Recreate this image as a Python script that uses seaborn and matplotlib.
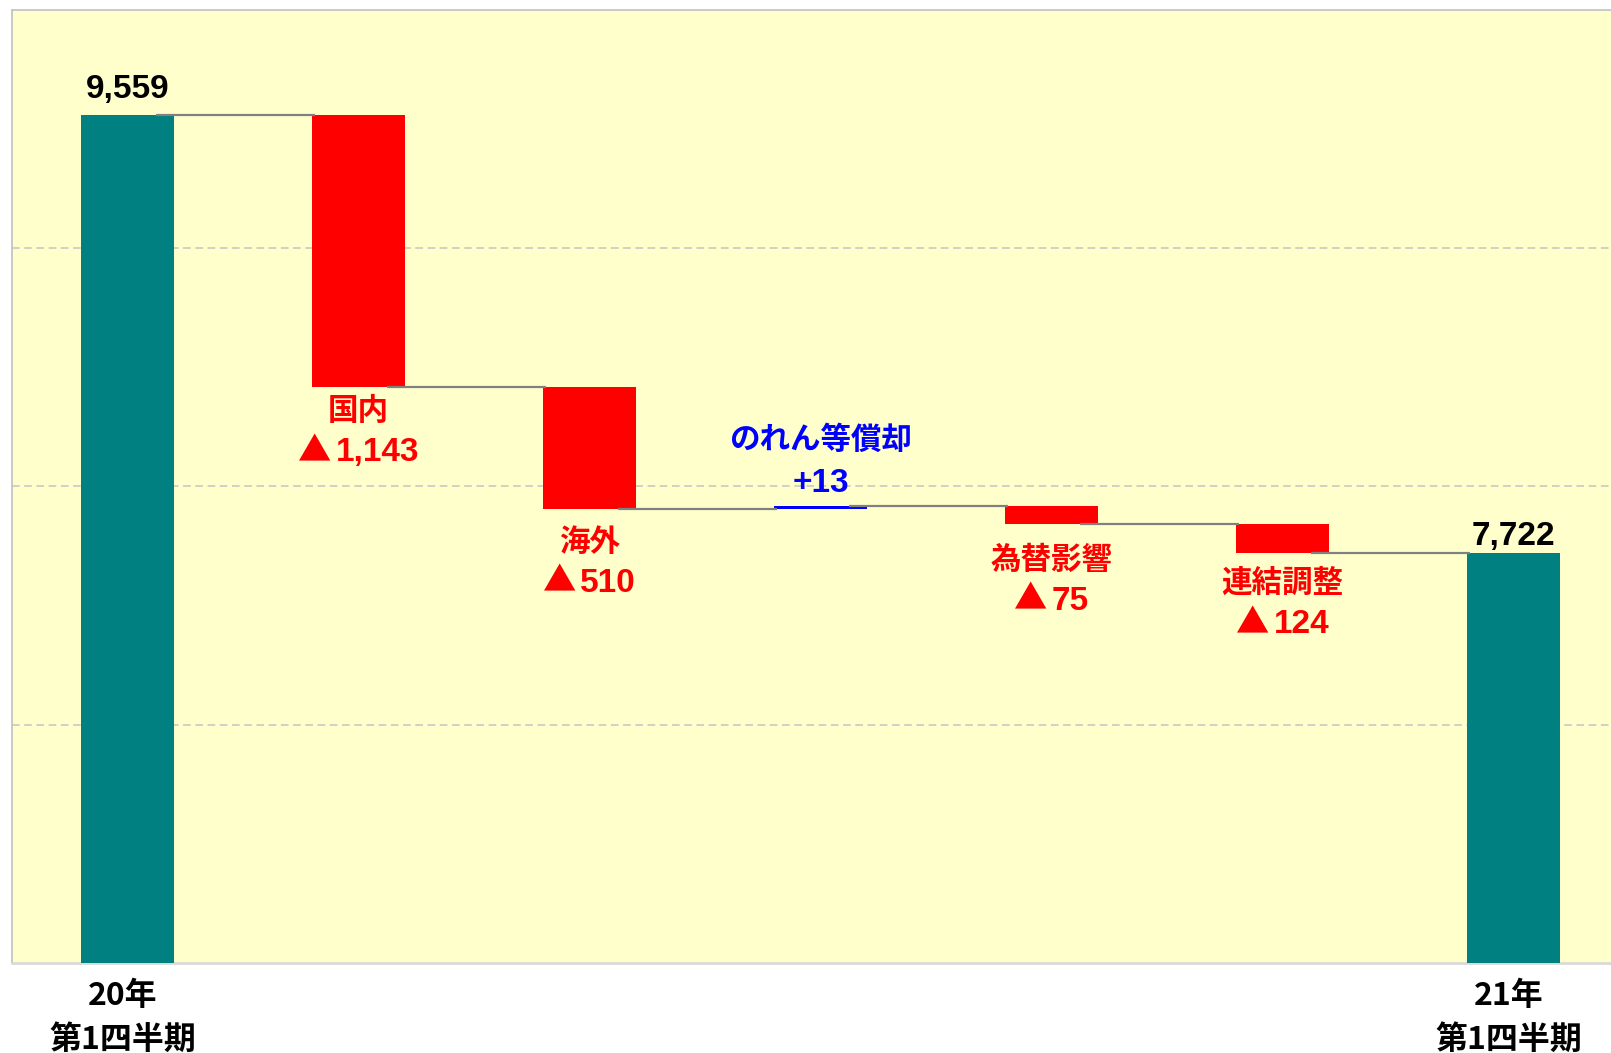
import matplotlib
matplotlib.use("Agg")
import matplotlib.pyplot as plt
import matplotlib.transforms as mtransforms
from matplotlib.offsetbox import TextArea, HPacker, AnnotationBbox
import seaborn as sns
import pandas as pd

# waterfall: 20年Q1 -> 21年Q1
categories = ["20年\n第1四半期", "国内", "海外", "のれん等償却", "為替影響", "連結調整", "21年\n第1四半期"]
changes = [9559, -1143, -510, 13, -75, -124, 7722]
kinds = ["total", "delta", "delta", "delta", "delta", "delta", "total"]
value_labels = ["9,559", "1,143", "510", "+13", "75", "124", "7,722"]

# layout: gap (px) between bar edge and its label, as hand-placed in the original
label_gap = [10, 8, 17, 7, 20, 14, 1]
LINE_PITCH = 43

TEAL = "#008080"
RED = "#FF0000"
BLUE = "#0000FF"
BG = "#FFFFCC"
NUM_FONT = ["Liberation Sans", "Noto Sans CJK JP", "DejaVu Sans"]
JP_FONT = ["Noto Sans CJK JP", "DejaVu Sans"]

# bar spans from running total
bottoms, heights, levels, colors = [], [], [], []
running = 0
for c, k in zip(changes, kinds):
    if k == "total":
        bottoms.append(0)
        heights.append(c)
        running = c
        colors.append(TEAL)
    else:
        start, end = running, running + c
        bottoms.append(min(start, end))
        heights.append(abs(c))
        running = end
        colors.append(RED if c < 0 else BLUE)
    levels.append(running)

df = pd.DataFrame({"category": categories, "height": heights})

sns.set_style("white")
plt.rcParams["font.family"] = JP_FONT

fig = plt.figure(figsize=(16.11, 10.53), dpi=100)
ax = fig.add_axes([12 / 1611, 1 - 963 / 1053, 1617 / 1611, 953 / 1053])
ax.set_facecolor(BG)

sns.barplot(data=df, x="category", y="height", order=categories, bottom=bottoms,
            width=0.4, color=TEAL, saturation=1, errorbar=None, linewidth=0, ax=ax, zorder=3)
for patch, col in zip(ax.patches, colors):
    patch.set_facecolor(col)
    patch.set_edgecolor(col)

# connector lines
for i in range(len(categories) - 1):
    ax.hlines(levels[i], i + 0.123, i + 1 - 0.188, color="#808080", linewidth=1.6, zorder=4)

ax.set_xlim(-0.5, 6.5)
ax.set_ylim(6000, 10000)
ax.set_yticks([7000, 8000, 9000])
ax.set_yticklabels([])
ax.yaxis.grid(True, linestyle=(0, (5, 3)), color="#C4C4C4", linewidth=1.1, zorder=0)
ax.set_axisbelow(True)
ax.tick_params(axis="both", length=0)

tick_labels = [c if k == "total" else "" for c, k in zip(categories, kinds)]
ax.set_xticks(range(len(categories)))
ax.set_xticklabels(tick_labels, fontsize=23, fontweight="bold", color="black",
                   linespacing=1.5, family=JP_FONT)
ax.tick_params(axis="x", pad=12)
shift = mtransforms.ScaledTranslation(-5 / 100, 0, fig.dpi_scale_trans)
for lbl in ax.get_xticklabels():
    lbl.set_transform(lbl.get_transform() + shift)
ax.set_xlabel("")
ax.set_ylabel("")

for side in ["left", "top", "right"]:
    ax.spines[side].set_color("#C0C0C0")
    ax.spines[side].set_linewidth(1.2)
ax.spines["bottom"].set_color("#D9D9D9")
ax.spines["bottom"].set_linewidth(2)

px = 0.72  # points per pixel at dpi 100
num_kw = dict(fontsize=24, fontweight="bold", family=NUM_FONT)
jp_kw = dict(fontsize=22, fontweight="bold", family=JP_FONT)


def neg_value_box(text, color):
    tri = TextArea("▲", textprops=dict(fontsize=24, color=color, family=JP_FONT))
    num = TextArea(text, textprops=dict(color=color, **num_kw))
    return HPacker(children=[tri, num], align="baseline", pad=0, sep=3)


for i, (k, c) in enumerate(zip(kinds, changes)):
    top = bottoms[i] + heights[i]
    bot = bottoms[i]
    gap = label_gap[i]
    if k == "total":
        ax.annotate(value_labels[i], (i, top), xytext=(0, gap * px), textcoords="offset points",
                    ha="center", va="bottom", color="black", **num_kw)
    elif c < 0:
        ax.annotate(categories[i], (i, bot), xytext=(0, -gap * px), textcoords="offset points",
                    ha="center", va="top", color=RED, **jp_kw)
        box = neg_value_box(value_labels[i], RED)
        ab = AnnotationBbox(box, (i, bot), xybox=(0, -(gap + LINE_PITCH - 4) * px),
                            xycoords="data", boxcoords="offset points",
                            box_alignment=(0.5, 1.0), frameon=False, pad=0)
        ax.add_artist(ab)
    else:
        ax.annotate(value_labels[i], (i, top), xytext=(0, gap * px), textcoords="offset points",
                    ha="center", va="bottom", color=BLUE, **num_kw)
        ax.annotate(categories[i], (i, top), xytext=(0, (gap + LINE_PITCH) * px),
                    textcoords="offset points", ha="center", va="bottom", color=BLUE, **jp_kw)

fig.savefig("out.png", dpi=100, facecolor="white")
plt.close(fig)
